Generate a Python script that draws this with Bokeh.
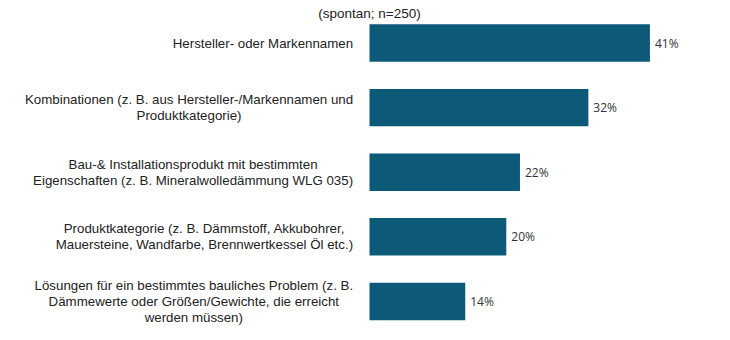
from bokeh.plotting import figure
from bokeh.models import ColumnDataSource, Range1d
from bokeh.core.properties import value
from bokeh.embed import file_html
from bokeh.resources import INLINE

title_text = "(spontan; n=250)"
categories = [
    "Hersteller- oder Markennamen",
    "Kombinationen (z. B. aus Hersteller-/Markennamen und\nProduktkategorie)",
    "Bau-& Installationsprodukt mit bestimmten\nEigenschaften (z. B. Mineralwolledämmung WLG 035)",
    "Produktkategorie (z. B. Dämmstoff, Akkubohrer,\nMauersteine, Wandfarbe, Brennwertkessel Öl etc.)",
    "Lösungen für ein bestimmtes bauliches Problem (z. B.\nDämmewerte oder Größen/Gewichte, die erreicht\nwerden müssen)",
]
values = [41, 32, 22, 20, 14]
value_labels = ["41%", "32%", "22%", "20%", "14%"]

positions = list(range(len(categories)))
src = ColumnDataSource(dict(
    pos=positions,
    val=values,
    cat=categories,
    lab=value_labels,
    lx=[-2.4] * len(categories),
))

p = figure(width=730, height=340, output_backend="svg", toolbar_location=None,
           x_range=Range1d(-53.95, 52.78), y_range=Range1d(4.605, -0.658),
           x_axis_type=None, y_axis_type=None, min_border=0)
p.grid.visible = False
p.outline_line_color = None
p.background_fill_color = "white"
p.border_fill_color = "white"

p.hbar(y="pos", left=0, right="val", height=0.58, fill_color="#0d5a78",
       line_color=None, source=src)

p.text(x="val", y="pos", text="lab", source=src, x_offset=5,
       text_font=value("Open Sans"), text_font_size="12px",
       text_color="#333333", text_baseline="middle", text_align="left")

p.text(x="lx", y="pos", text="cat", source=src,
       text_font=value("Liberation Sans"), text_font_size="13.3px",
       text_color="#222222", text_baseline="middle", text_align="center",
       anchor=value("center_right"), text_line_height=1.05)

tsrc = ColumnDataSource(dict(x=[0], y=[-0.46], t=[title_text]))
p.text(x="x", y="y", text="t", source=tsrc,
       text_font=value("Liberation Sans"), text_font_size="13.5px",
       text_color="#222222", text_baseline="alphabetic", text_align="center")

open("out.html", "w").write(file_html(p, INLINE))
